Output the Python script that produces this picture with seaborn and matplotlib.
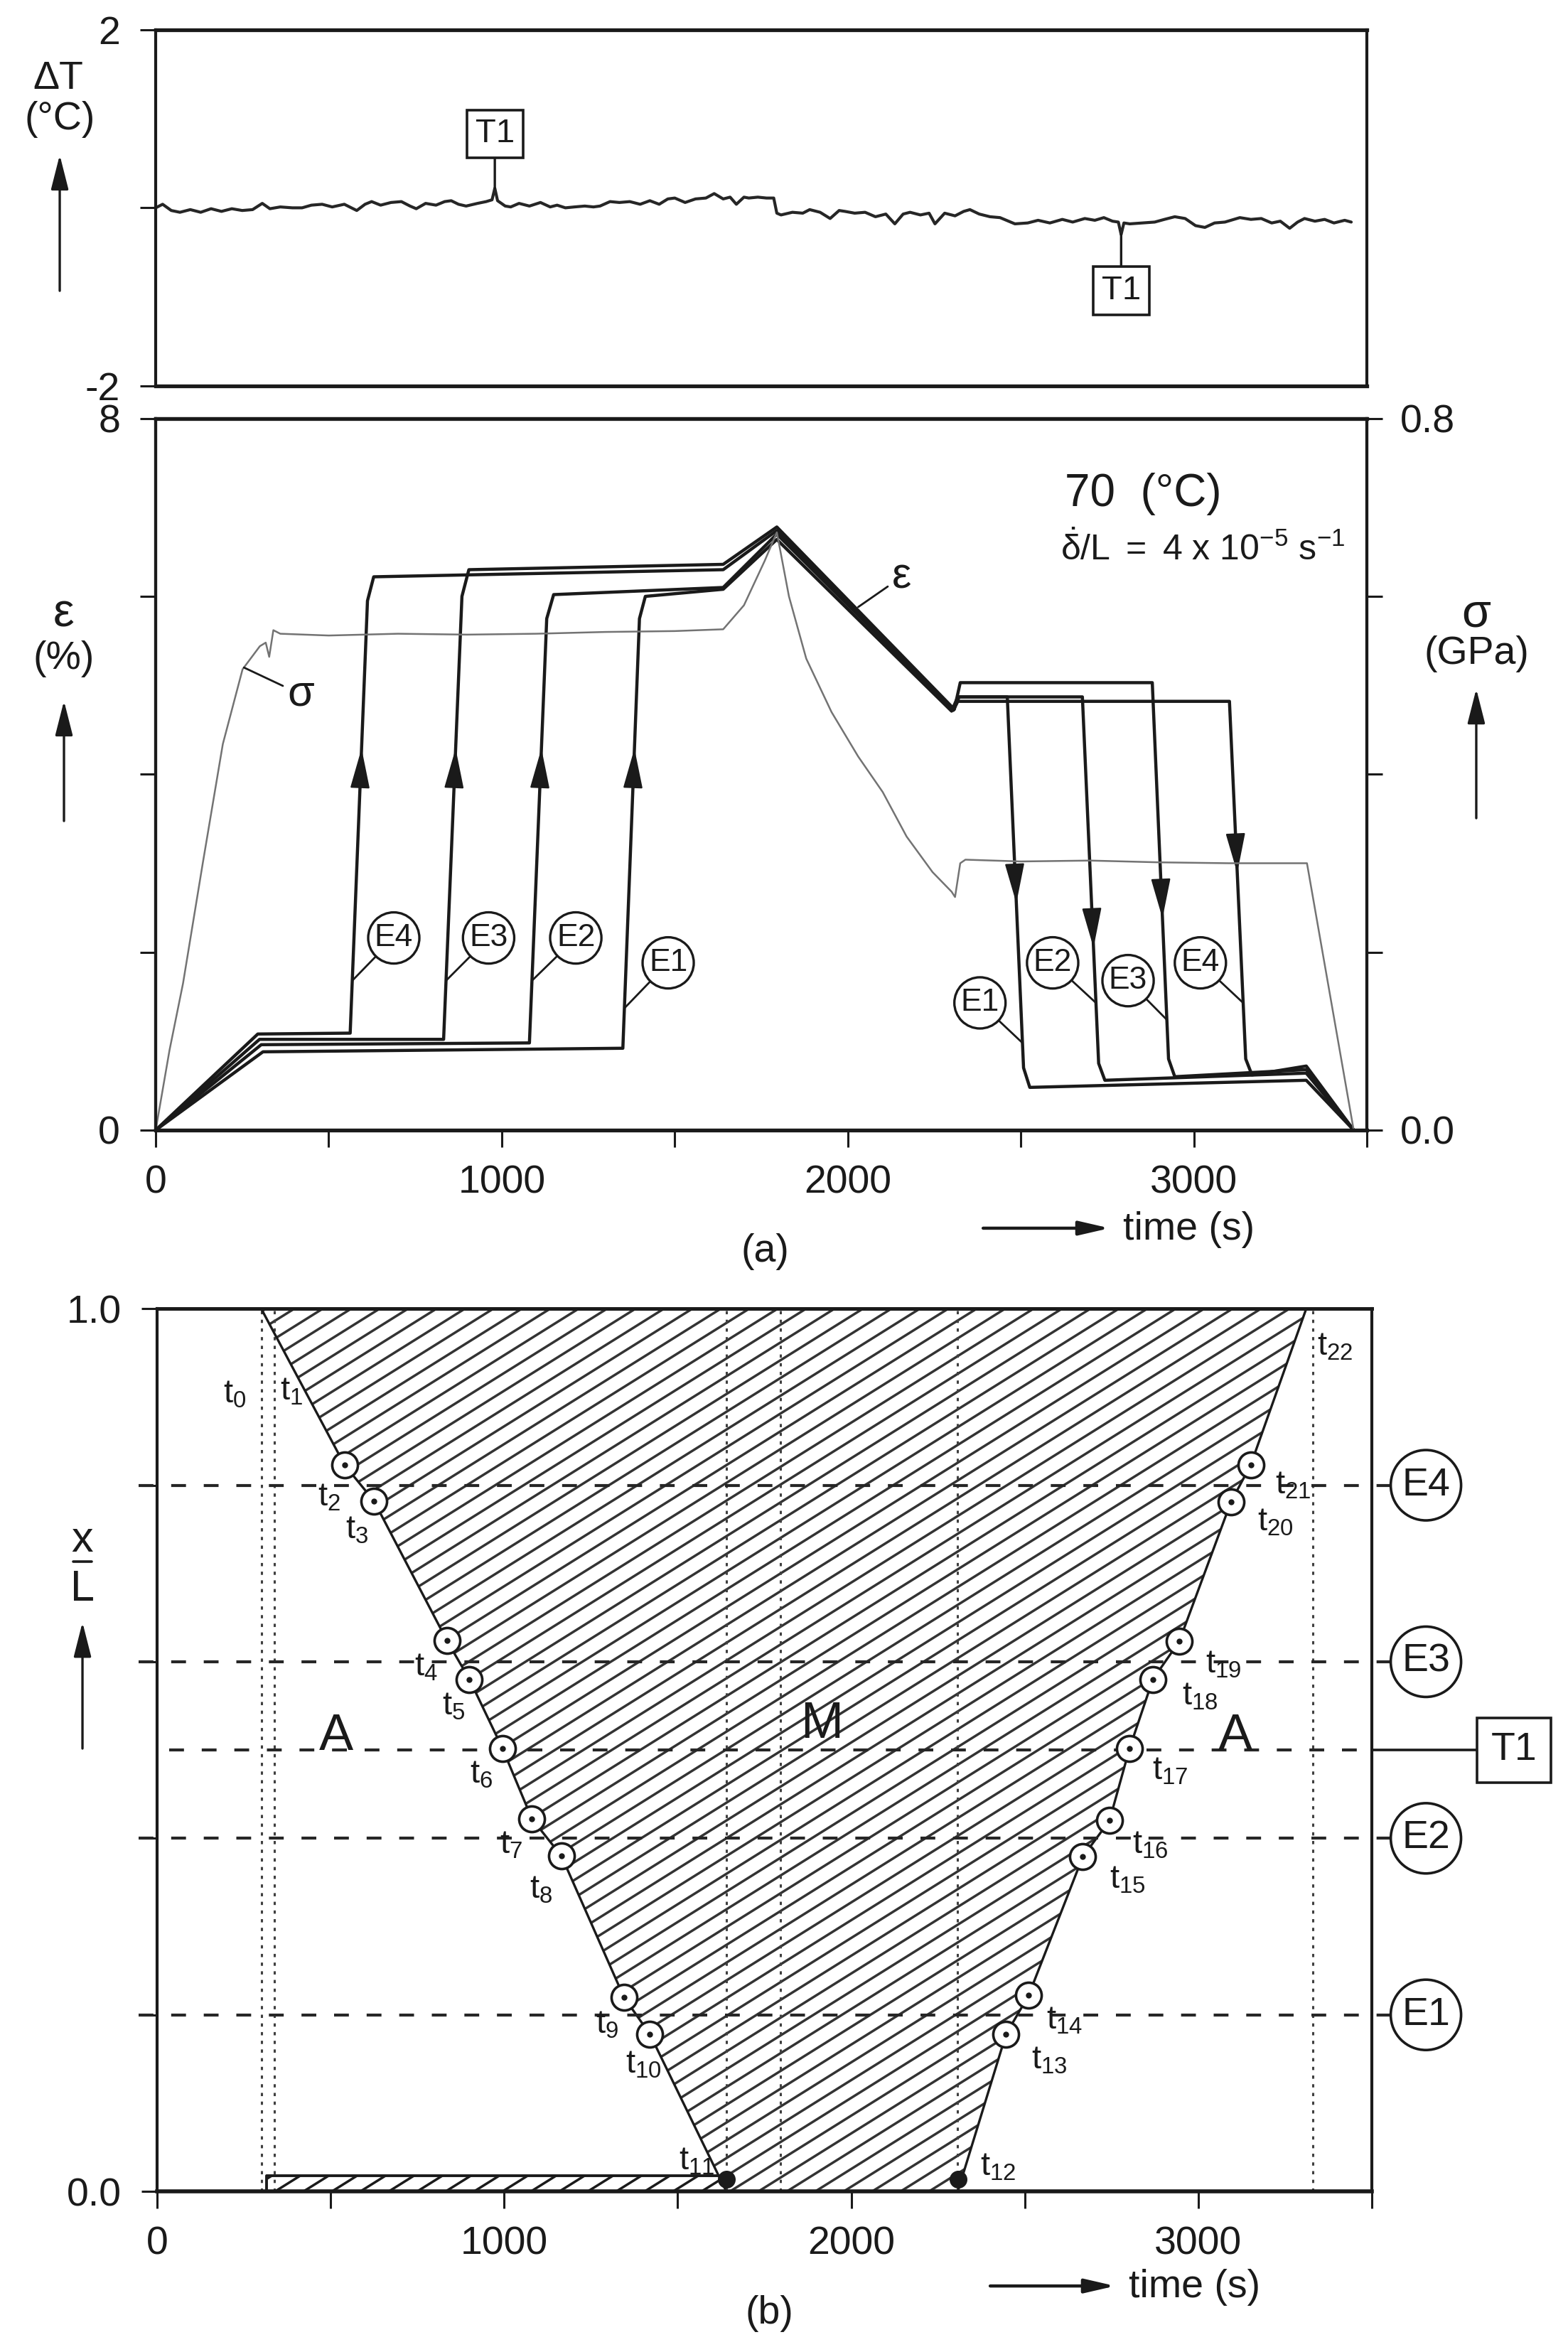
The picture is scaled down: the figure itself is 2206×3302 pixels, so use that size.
import numpy as np
import seaborn as sns
import matplotlib.pyplot as plt
import matplotlib.hatch as mhatch
from matplotlib.path import Path
from matplotlib.patches import FancyArrowPatch
from matplotlib.lines import Line2D
from matplotlib.transforms import blended_transform_factory

# ---------------- values ----------------
# top panel: temperature change dT (C) against time (s)
dT_time = [
    0, 20, 45, 70, 100, 130, 160, 190, 220, 250,
    280, 308, 330, 360, 395, 423, 450, 481, 510, 545,
    581, 605, 624, 650, 680, 710, 735, 753, 780, 810,
    835, 854, 875, 897, 930, 955, 972, 980, 988, 1010,
    1026, 1050, 1080, 1112, 1140, 1160, 1184, 1210, 1240, 1265,
    1284, 1313, 1340, 1370, 1400, 1428, 1455, 1480, 1500, 1530,
    1560, 1590, 1614, 1640, 1660, 1678, 1700, 1714, 1740, 1765,
    1786, 1795, 1807, 1840, 1870, 1890, 1920, 1949, 1975, 1992,
    2020, 2050, 2080, 2110, 2136, 2160, 2180, 2210, 2235, 2252,
    2280, 2310, 2335, 2353, 2380, 2411, 2440, 2483, 2520, 2550,
    2584, 2620, 2650, 2685, 2714, 2740, 2765, 2782, 2790, 2798,
    2815, 2850, 2887, 2915, 2945, 2975, 3005, 3032, 3060, 3090,
    3133, 3165, 3195, 3225, 3250, 3277, 3300, 3320, 3350, 3378,
    3405, 3436, 3455]
dT_val = [
    0.00, 0.04, -0.03, -0.05, -0.02, -0.05, -0.01, -0.04, -0.01, -0.03,
    -0.02, 0.05, -0.01, 0.01, 0.00, 0.00, 0.03, 0.04, 0.01, 0.04,
    -0.03, 0.04, 0.07, 0.03, 0.06, 0.07, 0.02, -0.01, 0.05, 0.03,
    0.07, 0.08, 0.04, 0.02, 0.05, 0.07, 0.09, 0.22, 0.08, 0.02,
    0.01, 0.05, 0.02, 0.06, 0.01, 0.03, 0.00, 0.01, 0.02, 0.01,
    0.02, 0.07, 0.06, 0.07, 0.04, 0.08, 0.04, 0.10, 0.11, 0.06,
    0.10, 0.11, 0.16, 0.10, 0.12, 0.04, 0.12, 0.11, 0.12, 0.11,
    0.11, -0.06, -0.08, -0.05, -0.06, -0.02, -0.05, -0.12, -0.03, -0.04,
    -0.06, -0.05, -0.10, -0.07, -0.18, -0.07, -0.05, -0.08, -0.06, -0.18,
    -0.06, -0.09, -0.04, -0.02, -0.07, -0.10, -0.11, -0.18, -0.17, -0.14,
    -0.17, -0.13, -0.16, -0.12, -0.14, -0.11, -0.15, -0.16, -0.30, -0.17,
    -0.18, -0.17, -0.16, -0.13, -0.10, -0.12, -0.20, -0.22, -0.17, -0.16,
    -0.11, -0.13, -0.12, -0.17, -0.15, -0.23, -0.16, -0.12, -0.15, -0.13,
    -0.17, -0.14, -0.16]
# T1 events on the dT trace
t1_time = [980, 2790]
t1_tip = [0.22, -0.30]
t1_box_y = [0.83, -0.93]

# panel (a): strain (%) at extensometers E1..E4
e1_time = [0, 310, 1350, 1398, 1415, 1640, 1795, 2300, 2318, 2461, 2508, 2526, 3325, 3462]
e1_val = [0, 0.88, 0.92, 5.75, 6.00, 6.08, 6.64, 4.71, 4.87, 4.87, 0.70, 0.48, 0.56, 0.0]
e2_time = [0, 305, 1080, 1130, 1150, 1640, 1795, 2305, 2322, 2678, 2725, 2743, 3325, 3462]
e2_val = [0, 0.96, 0.98, 5.75, 6.02, 6.10, 6.70, 4.72, 4.87, 4.87, 0.75, 0.56, 0.64, 0.0]
e3_time = [0, 300, 832, 885, 905, 1640, 1795, 2308, 2325, 2880, 2927, 2945, 3325, 3462]
e3_val = [0, 1.02, 1.02, 6.00, 6.30, 6.36, 6.78, 4.73, 5.03, 5.03, 0.80, 0.60, 0.68, 0.0]
e4_time = [0, 295, 562, 612, 630, 1640, 1795, 2305, 2318, 3103, 3150, 3168, 3325, 3462]
e4_val = [0, 1.08, 1.09, 5.95, 6.22, 6.30, 6.74, 4.72, 4.82, 4.82, 0.80, 0.62, 0.72, 0.0]
e_names = ['E1', 'E2', 'E3', 'E4']

# panel (a): nominal stress (GPa)
sig_time = [0, 40, 79, 136, 194, 251, 301, 318, 328, 340, 360, 500, 700, 900, 1100, 1300,
            1500, 1640, 1700, 1760, 1795, 1830, 1880, 1953, 2030, 2101, 2170, 2245, 2300,
            2310, 2325, 2340, 2500, 2700, 2900, 3100, 3327, 3462]
sig_val = [0, 0.09, 0.165, 0.30, 0.434, 0.518, 0.544, 0.548, 0.532, 0.562, 0.558, 0.556,
           0.558, 0.557, 0.558, 0.560, 0.561, 0.563, 0.59, 0.64, 0.672, 0.60, 0.53, 0.47,
           0.42, 0.38, 0.33, 0.29, 0.268, 0.262, 0.30, 0.304, 0.302, 0.303, 0.301, 0.300,
           0.300, 0.0]

# arrow heads on the jumps (strain level of the tip)
up_tip = [4.29, 4.29, 4.29, 4.29]
down_tip = [2.55, 2.05, 2.38, 2.89]
# circled labels in (a): label centre (time, strain) and strain where the leader meets the curve
lab_up_pos = [(1481, 1.88), (1214, 2.16), (962, 2.16), (688, 2.16)]
lab_up_hit = [1.37, 1.68, 1.68, 1.68]
lab_dn_pos = [(2382, 1.43), (2592, 1.88), (2810, 1.68), (3019, 1.88)]
lab_dn_hit = [0.98, 1.43, 1.24, 1.43]

# panel (b): phase front positions x/L against time
left_t = [300, 540, 625, 835, 900, 995, 1080, 1165, 1345, 1420, 1640]
left_x = [1.0, 0.823, 0.782, 0.624, 0.58, 0.502, 0.422, 0.38, 0.22, 0.178, 0.0]
right_t = [2307, 2446, 2511, 2667, 2744, 2802, 2869, 2945, 3094, 3151, 3311]
right_x = [0.0, 0.178, 0.222, 0.379, 0.42, 0.502, 0.58, 0.623, 0.781, 0.823, 1.0]
strip_t = [315, 1640]
strip_h = 0.018
gauge_x = [0.2, 0.4, 0.6, 0.8]
gauge_names = ['E1', 'E2', 'E3', 'E4']
therm_x = 0.5
event_t = [300, 337, 1640, 1795, 2305, 3330]
t_lab_time = [223, 387, 496, 575, 776, 854, 934, 1020, 1106, 1296, 1401, 1556,
              2423, 2572, 2615, 2797, 2861, 2920, 3006, 3072, 3223, 3273, 3395]
t_lab_x = [0.903, 0.906, 0.786, 0.749, 0.594, 0.55, 0.472, 0.393, 0.342, 0.189, 0.144, 0.034,
           0.028, 0.149, 0.194, 0.353, 0.393, 0.476, 0.561, 0.597, 0.758, 0.80, 0.957]
phase_lab = [('A', 517, 0.515), ('M', 1915, 0.529), ('A', 3107, 0.515)]


# the scan's hatching rises at about 32 degrees, so swap matplotlib's '/' pattern
class SlantHatch(mhatch.HatchPatternBase):
    rise, run = 5, 8

    def __init__(self, hatch, density):
        n = hatch.count('/') * 8
        s = self.rise / self.run
        segs = []
        lo, hi = -0.1, 1.1
        for k in range(-2 * n, 2 * n):
            c = k / n
            xa = max(lo, (lo - c) / s)
            xb = min(hi, (hi - c) / s)
            if xb > xa:
                segs.append((xa, s * xa + c, xb, s * xb + c))
        self.segs = segs
        self.num_vertices = 2 * len(segs)

    def set_vertices_and_codes(self, vertices, codes):
        for i, (xa, ya, xb, yb) in enumerate(self.segs):
            vertices[2 * i] = xa, ya
            vertices[2 * i + 1] = xb, yb
            codes[2 * i] = Path.MOVETO
            codes[2 * i + 1] = Path.LINETO


if hasattr(mhatch, '_hatch_types'):
    mhatch._hatch_types = [SlantHatch if h is mhatch.NorthEastHatch else h
                           for h in mhatch._hatch_types]

# ---------------- style ----------------
sns.set_style('ticks')
plt.rcParams['font.family'] = ['Liberation Sans', 'DejaVu Sans']
plt.rcParams.update({
    'mathtext.fontset': 'custom',
    'mathtext.rm': 'Liberation Sans',
    'mathtext.it': 'Liberation Sans:italic',
    'mathtext.bf': 'Liberation Sans:bold',
    'axes.unicode_minus': False,
    'axes.linewidth': 1.5,
    'axes.edgecolor': '0.1',
    'text.color': '0.1',
    'xtick.color': '0.1',
    'ytick.color': '0.1',
    'xtick.major.size': 8.5,
    'ytick.major.size': 8.0,
    'xtick.major.width': 1.1,
    'ytick.major.width': 1.1,
    'xtick.major.pad': 9,
    'ytick.major.pad': 10,
    'xtick.labelsize': 20,
    'ytick.labelsize': 20,
    'hatch.linewidth': 1.25,
})
INK = '0.1'

fig = plt.figure(figsize=(11.03, 16.51), dpi=200)
ax_t = fig.add_axes([0.0993, 0.8356, 0.7724, 0.1517])
ax_a = fig.add_axes([0.0993, 0.5185, 0.7724, 0.3032])
ax_s = ax_a.twinx()
ax_b = fig.add_axes([0.1002, 0.0663, 0.7747, 0.3761])

# ---------------- top: dT ----------------
sns.lineplot(x=dT_time, y=dT_val, ax=ax_t, color='0.15', lw=1.5, estimator=None, sort=False)
ax_t.set_xlim(0, 3500)
ax_t.set_ylim(-2, 2)
ax_t.set_xticks([])
ax_t.set_yticks([-2, 0, 2], ['-2', '', '2'])
ax_t.set_xlabel('')
ax_t.set_ylabel('')
for sp in ['top', 'bottom']:
    ax_t.spines[sp].set_linewidth(1.9)
for t, tip, by in zip(t1_time, t1_tip, t1_box_y):
    ax_t.annotate('T1', xy=(t, tip), xytext=(t, by), ha='center', va='center', fontsize=17,
                  bbox=dict(boxstyle='square,pad=0.25', fc='white', ec=INK, lw=1.3),
                  arrowprops=dict(arrowstyle='-', lw=1.2, color=INK, shrinkA=0, shrinkB=0))

# ---------------- middle: strain and stress ----------------
e_time = [e1_time, e2_time, e3_time, e4_time]
e_val = [e1_val, e2_val, e3_val, e4_val]
for t, v in zip(e_time, e_val):
    sns.lineplot(x=t, y=v, ax=ax_a, color=INK, lw=1.6, estimator=None, sort=False)
sns.lineplot(x=sig_time, y=sig_val, ax=ax_s, color='0.45', lw=0.9, estimator=None, sort=False)

ax_a.set_xlim(0, 3500)
ax_a.set_ylim(0, 8)
ax_s.set_ylim(0, 0.8)
ax_a.set_xticks(np.arange(0, 3501, 500), ['0', '', '1000', '', '2000', '', '3000', ''])
ax_a.set_yticks([0, 2, 4, 6, 8], ['0', '', '', '', '8'])
ax_s.set_yticks([0, 0.2, 0.4, 0.6, 0.8], ['0.0', '', '', '', '0.8'])
ax_s.tick_params(axis='y', pad=9, length=8, width=1.1)
for a in (ax_a, ax_s):
    a.set_xlabel('')
    a.set_ylabel('')
ax_a.spines['top'].set_linewidth(1.9)
ax_a.spines['bottom'].set_linewidth(1.9)


def t_on(t, v, i0, i1, level):
    seg_t = np.array(t[i0:i1 + 1], float)
    seg_v = np.array(v[i0:i1 + 1], float)
    if seg_v[0] > seg_v[-1]:
        seg_t, seg_v = seg_t[::-1], seg_v[::-1]
    return np.interp(level, seg_v, seg_t)


head = dict(arrowstyle='-|>,head_length=0.9,head_width=0.22', mutation_scale=20,
            lw=0.8, color=INK, shrinkA=0, shrinkB=0)
circ = dict(boxstyle='circle,pad=0.2', fc='white', ec=INK, lw=1.2)
lead = dict(arrowstyle='-', lw=1.0, color=INK, shrinkA=0, shrinkB=0)
for k, name in enumerate(e_names):
    t, v = e_time[k], e_val[k]
    # rising jump (indices 2..4) and falling jump (indices 9..11)
    tip = up_tip[k]
    ax_a.annotate('', xy=(t_on(t, v, 2, 4, tip), tip),
                  xytext=(t_on(t, v, 2, 4, tip - 0.4), tip - 0.4), arrowprops=head)
    tip = down_tip[k]
    ax_a.annotate('', xy=(t_on(t, v, 9, 11, tip), tip),
                  xytext=(t_on(t, v, 9, 11, tip + 0.4), tip + 0.4), arrowprops=head)
    hit = lab_up_hit[k]
    ax_a.annotate(name, xy=(t_on(t, v, 2, 4, hit), hit), xytext=lab_up_pos[k],
                  ha='center', va='center', fontsize=16, bbox=circ, arrowprops=lead)
    hit = lab_dn_hit[k]
    ax_a.annotate(name, xy=(t_on(t, v, 9, 11, hit), hit), xytext=lab_dn_pos[k],
                  ha='center', va='center', fontsize=16, bbox=circ, arrowprops=lead)

ax_a.annotate('ε', xy=(2030, 5.88), xytext=(2128, 6.22), ha='left', va='center', fontsize=22,
              arrowprops=lead)
ax_s.annotate('σ', xy=(255, 0.52), xytext=(380, 0.49), ha='left', va='center', fontsize=22,
              arrowprops=lead)
ax_a.text(2627, 7.15, '70  (°C)', ha='left', va='center', fontsize=23)
ax_a.text(2615, 6.53, r'$\mathregular{\dot{\delta}/L\ =\ 4\ x\ 10^{-5}\ s^{-1}}$',
          ha='left', va='center', fontsize=18)

# ---------------- bottom: phase fronts ----------------
ax_b.fill(left_t + right_t, left_x + right_x, fc='none', ec='0.2', hatch='/', lw=0)
ax_b.fill_between(strip_t, 0, strip_h, fc='none', ec='0.1', hatch='/', lw=1.4)
sns.lineplot(x=left_t, y=left_x, ax=ax_b, color=INK, lw=1.2, estimator=None, sort=False)
sns.lineplot(x=right_t, y=right_x, ax=ax_b, color=INK, lw=1.2, estimator=None, sort=False)

for t in event_t:
    ax_b.axvline(t, ls=(0, (1.5, 2.5)), lw=1.1, color='0.25', zorder=1)
for y in gauge_x:
    ax_b.axhline(y, xmin=-0.015, xmax=1.02, ls=(0, (5, 6)), lw=1.5, color='0.15', clip_on=False)
ax_b.axhline(therm_x, xmin=0.01, xmax=1.0, ls=(0, (5, 6)), lw=1.5, color='0.15')
ax_b.axhline(therm_x, xmin=1.0, xmax=1.09, lw=1.3, color=INK, clip_on=False)

mid_t = left_t[1:-1] + right_t[1:-1]
mid_x = left_x[1:-1] + right_x[1:-1]
is_sq = [abs(x - therm_x) < 1e-6 for x in mid_x]
ring_t = [t for t, s in zip(mid_t, is_sq) if not s]
ring_x = [x for x, s in zip(mid_x, is_sq) if not s]
sq_t = [t for t, s in zip(mid_t, is_sq) if s]
sq_x = [x for x, s in zip(mid_x, is_sq) if s]
ax_b.plot(ring_t, ring_x, 'o', ms=13, mfc='white', mec=INK, mew=1.3, zorder=5)
ax_b.plot(sq_t, sq_x, 's', ms=12, mfc='white', mec=INK, mew=1.3, zorder=5)
ax_b.plot(mid_t, mid_x, '.', ms=4, color=INK, zorder=6)
ax_b.plot([left_t[-1], right_t[0]], [left_x[-1] + 0.014, right_x[0] + 0.014], 'o',
          ms=8, color=INK, zorder=6, clip_on=False)

for i, (t, x) in enumerate(zip(t_lab_time, t_lab_x)):
    ax_b.text(t, x, r'$\mathregular{t_{%d}}$' % i, ha='center', va='center', fontsize=17)
for s, t, x in phase_lab:
    ax_b.text(t, x, s, ha='center', va='center', fontsize=26)

side = blended_transform_factory(ax_b.transAxes, ax_b.transData)
for y, name in zip(gauge_x, gauge_names):
    ax_b.text(1.0445, y, name, transform=side, ha='center', va='center', fontsize=20,
              bbox=dict(boxstyle='circle,pad=0.28', fc='white', ec=INK, lw=1.3), clip_on=False)
ax_b.text(1.117, therm_x, 'T1', transform=side, ha='center', va='center', fontsize=20,
          bbox=dict(boxstyle='square,pad=0.35', fc='white', ec=INK, lw=1.3), clip_on=False)

ax_b.set_xlim(0, 3500)
ax_b.set_ylim(0, 1)
ax_b.set_xticks(np.arange(0, 3501, 500), ['0', '', '1000', '', '2000', '', '3000', ''])
ax_b.set_yticks([0, 0.2, 0.4, 0.6, 0.8, 1.0], ['0.0', '', '', '', '', '1.0'])
ax_b.set_xlabel('')
ax_b.set_ylabel('')
ax_b.spines['bottom'].set_linewidth(2.0)
ax_b.spines['top'].set_linewidth(1.8)

# ---------------- axis captions with arrows ----------------
up = dict(arrowstyle='-|>,head_length=0.75,head_width=0.19', mutation_scale=20,
          lw=1.2, color=INK, shrinkA=0, shrinkB=0)
right = dict(arrowstyle='-|>,head_length=0.65,head_width=0.15', mutation_scale=20,
             lw=1.6, color=INK, shrinkA=0, shrinkB=0)


def fig_arrow(p0, p1, style):
    fig.add_artist(FancyArrowPatch(p0, p1, transform=fig.transFigure, **style))


fig.text(0.0372, 0.9664, 'ΔT', ha='center', va='center', fontsize=20)
fig.text(0.0381, 0.9491, '(°C)', ha='center', va='center', fontsize=20)
fig_arrow((0.0381, 0.8761), (0.0381, 0.934), up)

fig.text(0.0408, 0.7383, 'ε', ha='center', va='center', fontsize=24)
fig.text(0.0408, 0.7193, '(%)', ha='center', va='center', fontsize=20)
fig_arrow((0.0408, 0.6502), (0.0408, 0.7014), up)

fig.text(0.9415, 0.7383, 'σ', ha='center', va='center', fontsize=24)
fig.text(0.9415, 0.7214, '(GPa)', ha='center', va='center', fontsize=20)
fig_arrow((0.9415, 0.6514), (0.9415, 0.7065), up)

fig.text(0.0526, 0.3437, 'x', ha='center', va='center', fontsize=22)
fig.text(0.0526, 0.3228, 'L', ha='center', va='center', fontsize=22)
fig.add_artist(Line2D([0.0466, 0.0586], [0.3345, 0.3345], transform=fig.transFigure,
                      color=INK, lw=1.3))
fig_arrow((0.0526, 0.2550), (0.0526, 0.3088), up)

fig.text(0.4878, 0.4667, '(a)', ha='center', va='center', fontsize=20)
fig.text(0.7584, 0.4761, 'time (s)', ha='center', va='center', fontsize=20)
fig_arrow((0.627, 0.4767), (0.7076, 0.4767), right)

fig.text(0.4909, 0.0142, '(b)', ha='center', va='center', fontsize=20)
fig.text(0.762, 0.0254, 'time (s)', ha='center', va='center', fontsize=20)
fig_arrow((0.6315, 0.0260), (0.7112, 0.0260), right)

fig.savefig('out.png', dpi=200)
